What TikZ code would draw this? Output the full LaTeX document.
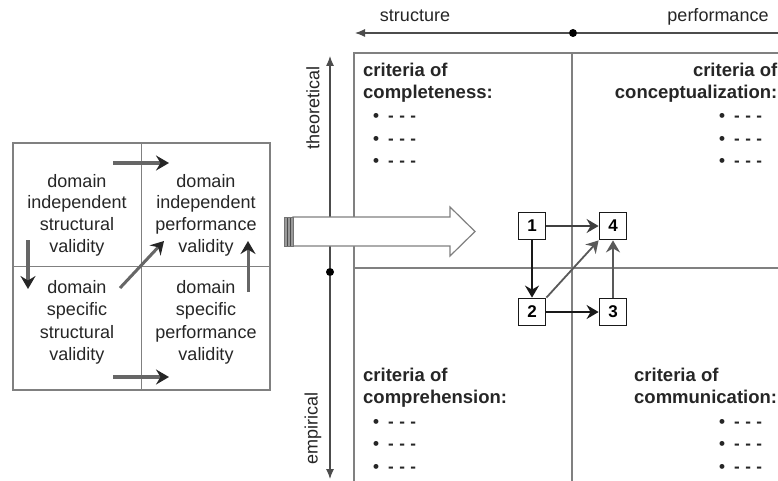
\documentclass[tikz,border=0pt]{standalone}
\usepackage{fontspec}
\setmainfont{Liberation Sans}
\usetikzlibrary{arrows.meta}
\begin{document}
\begin{tikzpicture}[x=1pt,y=-1pt,
  reg/.style={inner sep=0pt, font=\fontsize{18}{22}\selectfont, text=black!85},
  bld/.style={inner sep=0pt, font=\fontsize{18.5}{22}\selectfont\bfseries, text=black!85},
  blt/.style={inner sep=0pt, font=\fontsize{17}{22}\selectfont\bfseries, text=black!85, anchor=base west},
  gridline/.style={draw=black!50, line width=1.4pt},
  axisline/.style={draw=black!70, line width=1.1pt, -{Latex[length=10pt,width=8pt]}},
  dotnode/.style={circle, fill=black, inner sep=0pt, minimum size=8pt},
  fatarrow/.style={draw=black!60, line width=4pt, -{Stealth[length=13pt,width=15pt,inset=4.5pt,color=black!85]}},
  numbox/.style={draw=black!90, line width=1.8pt, fill=white, minimum size=27pt, inner sep=0pt, font=\fontsize{17}{17}\selectfont\bfseries},
  boxarrow/.style={line width=1.8pt, -{Stealth[length=12pt,width=14pt,inset=4pt]}},
]
\useasboundingbox (0,0) rectangle (778,481);
\clip (0,0) rectangle (778,481);
\fill[white] (0,0) rectangle (778,481);

% ---------- left box ----------
\node[draw=black!50, line width=1.3pt, minimum width=257pt, minimum height=247pt, inner sep=0pt] (lbox) at (141.5,266.5) {};
\draw[draw=black!50, line width=1.3pt] (lbox.north) -- (lbox.south);
\draw[draw=black!50, line width=1.3pt] (lbox.west) -- (lbox.east);

\foreach \t [count=\i] in {domain,independent,structural,validity}
  \node[reg, anchor=base] (ltl\i) at (77,{187+(\i-1)*21.8}) {\t};
\foreach \t [count=\i] in {domain,independent,performance,validity}
  \node[reg, anchor=base] (ltr\i) at (206,{187+(\i-1)*21.8}) {\t};
\foreach \t [count=\i] in {domain,specific,structural,validity}
  \node[reg, anchor=base] (lbl\i) at (77,{293+(\i-1)*22.5}) {\t};
\foreach \t [count=\i] in {domain,specific,performance,validity}
  \node[reg, anchor=base] (lbr\i) at (206,{293+(\i-1)*22.5}) {\t};

\coordinate (a1s) at (113,163); \coordinate (a1e) at (169,163);
\coordinate (a2s) at (28,240);  \coordinate (a2e) at (28,289);
\coordinate (a3s) at (120,288); \coordinate (a3e) at (164,241);
\coordinate (a4s) at (248,292); \coordinate (a4e) at (248,241);
\coordinate (a5s) at (113,377); \coordinate (a5e) at (169,377);
\draw[fatarrow] (a1s) -- (a1e);
\draw[fatarrow] (a2s) -- (a2e);
\draw[fatarrow, line width=3pt] (a3s) -- (a3e);
\draw[fatarrow, line width=3pt] (a4s) -- (a4e);
\draw[fatarrow] (a5s) -- (a5e);

% ---------- right grid ----------
\coordinate (gtl) at (354,53);
\coordinate (gtr) at (790,53);
\coordinate (gtm) at (572,53);
\coordinate (gbm) at (572,490);
\coordinate (gbl) at (354,490);
\coordinate (gml) at (354,268);
\coordinate (gmr) at (790,268);
\draw[gridline] (gtr) -- (gtl) -- (gbl);
\draw[gridline] (gtm) -- (gbm);
\draw[gridline] (gml) -- (gmr);

% axes
\node[dotnode] (hdot) at (573,33) {};
\coordinate (hl) at (355,33);
\coordinate (hr) at (792,33);
\draw[axisline] (hdot) -- (hl);
\draw[axisline] (hdot) -- (hr);
\node[dotnode] (vdot) at (330,272) {};
\coordinate (vt) at (330,56);
\coordinate (vb) at (330,479);
\draw[axisline] (vdot) -- (vt);
\draw[axisline] (vdot) -- (vb);

\node[reg, anchor=base] (lstr) at (415,22) {structure};
\node[reg, anchor=base] (lperf) at (718,22) {performance};
\node[reg, rotate=90] (ltheo) at (313,108) {theoretical};
\node[reg, rotate=90] (lemp) at (313,428) {empirical};

% big hollow arrow
\draw[draw=black!50, line width=1.2pt, fill=white]
  (293,217) -- (450,217) -- (450,207) -- (475,231.5) -- (450,256) -- (450,246) -- (293,246) -- cycle;
\fill[black!40] (284,217) rectangle (293,246);
\draw[black!70, line width=0.8pt] (287,217) -- (287,246);
\draw[black!70, line width=0.8pt] (290,217) -- (290,246);
\draw[black!55, line width=1pt] (284,217) rectangle (293,246);

% quadrant texts
\node[bld, anchor=base west] (tl1) at (363,77) {criteria of};
\node[bld, anchor=base west] (tl2) at (363,99) {completeness:};
\node[bld, anchor=base east] (tr1) at (777.5,77) {criteria of};
\node[bld, anchor=base east] (tr2) at (777.5,99) {conceptualization:};
\node[bld, anchor=base west] (bl1) at (363,381) {criteria of};
\node[bld, anchor=base west] (bl2) at (363,403) {comprehension:};
\node[bld, anchor=base west] (br1) at (634,381) {criteria of};
\node[bld, anchor=base west] (br2) at (634,403) {communication:};

\newcommand{\bdash}{\textbullet\hspace{9pt}-\hspace{5.5pt}-\hspace{5.5pt}-}
\foreach \yy [count=\i] in {122,144.5,167} {
  \node[blt] (tlb\i) at (373,\yy) {\bdash};
  \node[blt] (trb\i) at (719,\yy) {\bdash};
}
\foreach \yy [count=\i] in {427,449.5,472} {
  \node[blt] (blb\i) at (373,\yy) {\bdash};
  \node[blt] (brb\i) at (719,\yy) {\bdash};
}

% numbered boxes
\node[numbox] (b1) at (532,226) {1};
\node[numbox] (b4) at (613,226) {4};
\node[numbox] (b2) at (532,312) {2};
\node[numbox] (b3) at (613,312) {3};
\draw[boxarrow, draw=black!75] (b1) -- (b4);
\draw[boxarrow, draw=black!90] (b1) -- (b2);
\draw[boxarrow, draw=black!90] (b2) -- (b3);
\draw[boxarrow, draw=black!65] (b3) -- (b4);
\draw[boxarrow, draw=black!65] (b2.north east) -- (b4.south west);
\end{tikzpicture}
\end{document}
